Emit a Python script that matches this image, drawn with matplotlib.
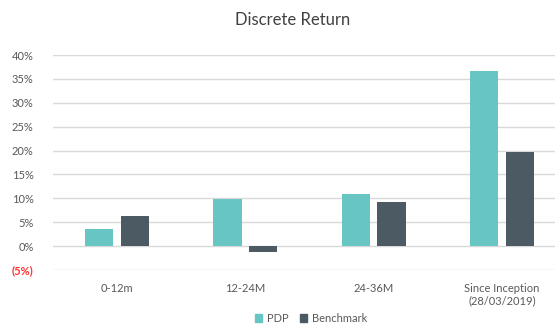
import numpy as np
import matplotlib
matplotlib.use("Agg")
import matplotlib.pyplot as plt
from matplotlib.patches import Rectangle

plt.rcParams["font.family"] = ["Lato", "DejaVu Sans"]

categories = ["0-12m", "12-24M", "24-36M", "Since Inception\n(28/03/2019)"]
pdp = [3.6, 9.9, 11.0, 36.6]
benchmark = [6.4, -1.3, 9.2, 19.7]
yticks = [-5, 0, 5, 10, 15, 20, 25, 30, 35, 40]

PDP_COL = "#67c6c4"
BM_COL = "#4b5a63"
TXT = "#595959"


def fmt_pct(v):
    return f"({abs(v)}%)" if v < 0 else f"{v}%"


fig = plt.figure(figsize=(5.55, 3.26), dpi=100, facecolor="white")
ax = fig.add_axes([53 / 555, 1 - 270 / 326, 513 / 555, (270 - 55) / 326])

x = np.arange(len(categories))
w = 0.22
gap = 0.06
ax.bar(x - (w + gap) / 2, pdp, w, color=PDP_COL, label="PDP", zorder=3)
ax.bar(x + (w + gap) / 2, benchmark, w, color=BM_COL, label="Benchmark", zorder=3)

ax.set_xlim(-0.5, len(categories) - 0.5)
ax.set_ylim(-5, 40)
ax.set_yticks(yticks)
ax.set_yticklabels([fmt_pct(v) for v in yticks])
for lbl, v in zip(ax.get_yticklabels(), yticks):
    lbl.set_color("#ff3333" if v < 0 else TXT)
    if v < 0:
        lbl.set_fontweight("bold")
ax.set_xticks(x)
ax.set_xticklabels(categories, color=TXT, fontsize=8)
ax.tick_params(axis="y", labelsize=8, length=0, pad=14)
ax.tick_params(axis="x", length=0, pad=9)
ax.grid(axis="y", color="#d9d9d9", linewidth=1, zorder=0)
for s in ax.spines.values():
    s.set_visible(False)

fig.text(293 / 555, 1 - 20 / 326, "Discrete Return", fontsize=12, color="#404040",
         ha="center", va="center")

handles = [Rectangle((0, 0), 1, 1, color=PDP_COL), Rectangle((0, 0), 1, 1, color=BM_COL)]
fig.legend(handles, ["PDP", "Benchmark"], loc="lower center", ncol=2, frameon=False,
           fontsize=8, labelcolor=TXT, bbox_to_anchor=(0.56, -0.025),
           handlelength=0.7, handleheight=0.7, handletextpad=0.4, columnspacing=1.0)

fig.savefig("out.png", dpi=100, facecolor="white")
